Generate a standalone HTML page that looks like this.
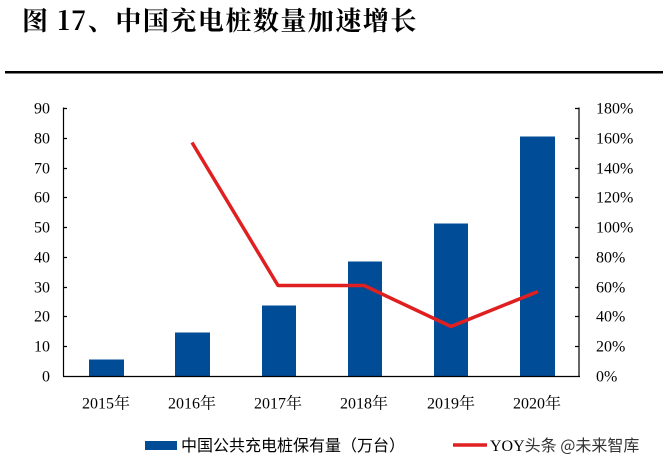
<!DOCTYPE html>
<html><head><meta charset="utf-8"><style>
body{margin:0;width:663px;height:460px;background:#fff;overflow:hidden}
</style></head><body>
<svg width="663" height="460" xmlns="http://www.w3.org/2000/svg">
<text x="22" y="30" font-family="'Noto Serif CJK SC',serif" font-weight="bold" font-size="26" letter-spacing="1.5" fill="#000">图 17、中国充电桩数量加速增长</text>
<rect x="5" y="71" width="658" height="2.5" fill="#000"/>
<g transform="translate(0,-1.5)">
<g font-family="'Liberation Serif',serif" font-size="16" fill="#000">
<g text-anchor="end">
<text x="50" y="115">90</text><text x="50" y="145">80</text><text x="50" y="175">70</text><text x="50" y="204">60</text><text x="50" y="234">50</text><text x="50" y="264">40</text><text x="50" y="294">30</text><text x="50" y="323">20</text><text x="50" y="353">10</text><text x="50" y="383">0</text>
</g>
<g>
<text x="596" y="115">180%</text><text x="596" y="145">160%</text><text x="596" y="175">140%</text><text x="596" y="204">120%</text><text x="596" y="234">100%</text><text x="596" y="264">80%</text><text x="596" y="294">60%</text><text x="596" y="323">40%</text><text x="596" y="353">20%</text><text x="596" y="383">0%</text>
</g>
<g text-anchor="middle" font-family="'Liberation Serif','Noto Serif CJK SC',serif">
<text x="106" y="410">2015年</text><text x="192" y="410">2016年</text><text x="278" y="410">2017年</text><text x="364" y="410">2018年</text><text x="451" y="410">2019年</text><text x="537" y="410">2020年</text>
</g>
</g>
<g fill="#004C97">
<rect x="89" y="361" width="35" height="17"/>
<rect x="175" y="334" width="35" height="44"/>
<rect x="262" y="307" width="34" height="71"/>
<rect x="348" y="263" width="34" height="115"/>
<rect x="434" y="225" width="34" height="153"/>
<rect x="520" y="138" width="35" height="240"/>
</g>
<g stroke="#000" stroke-width="1.2" fill="none">
<line x1="63.5" y1="109" x2="63.5" y2="378"/>
<line x1="579" y1="109" x2="579" y2="378"/>
<line x1="63" y1="378" x2="580" y2="378"/>
<path d="M63 110h4M63 140h4M63 170h4M63 199h4M63 229h4M63 259h4M63 289h4M63 318h4M63 348h4M579 110h-4M579 140h-4M579 170h-4M579 199h-4M579 229h-4M579 259h-4M579 289h-4M579 318h-4M579 348h-4"/>
</g>
<polyline points="192,144 278,287 364,287 451,328 538,293" fill="none" stroke="#E02020" stroke-width="3.5" stroke-linejoin="round"/>
</g>
<rect x="145" y="441" width="32" height="9" fill="#004C97"/>
<text x="181" y="451" font-family="'Noto Sans CJK SC',sans-serif" font-size="16" fill="#000">中国公共充电桩保有量（万台）</text>
<line x1="453" y1="445" x2="487" y2="445" stroke="#E02020" stroke-width="3.5"/>
<text x="490" y="451" font-family="'Liberation Serif','Noto Sans CJK SC',serif" font-size="16" fill="#000">YOY<tspan font-family="'Noto Sans CJK SC',sans-serif" fill="#333">头条 @未来智库</tspan></text>
</svg>
</body></html>
